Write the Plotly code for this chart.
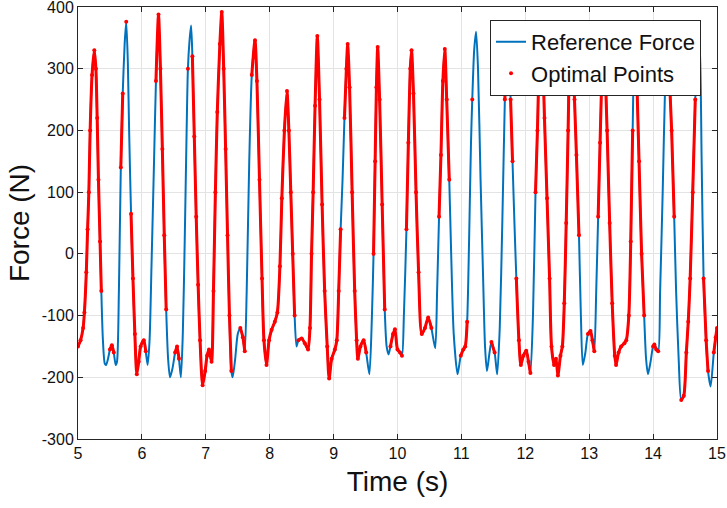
import plotly.graph_objects as go

# Knots of the reference force curve
time_s = [
    5.00, 5.04, 5.08, 5.10, 5.13, 5.15, 5.17, 5.19, 5.22, 5.255, 5.28, 5.30, 5.32, 5.345, 5.365,
    5.39, 5.42, 5.44, 5.47, 5.50, 5.53, 5.56, 5.59, 5.61, 5.64, 5.67, 5.70, 5.73, 5.755, 5.78,
    5.80, 5.83, 5.86, 5.89, 5.92, 5.95, 5.98, 6.03, 6.06, 6.09, 6.12, 6.15, 6.19, 6.22, 6.26,
    6.29, 6.32, 6.35, 6.38, 6.41, 6.44, 6.48, 6.52, 6.55, 6.58, 6.61, 6.64, 6.67, 6.70, 6.72,
    6.745, 6.77, 6.79, 6.82, 6.85, 6.88, 6.91, 6.95, 6.99, 7.02, 7.05, 7.09, 7.12, 7.15, 7.18,
    7.22, 7.25, 7.28, 7.31, 7.34, 7.37, 7.40, 7.42, 7.46, 7.50, 7.54, 7.58, 7.61, 7.64, 7.68,
    7.72, 7.77, 7.80, 7.84, 7.88, 7.91, 7.95, 7.99, 8.03, 8.08, 8.12, 8.16, 8.19, 8.23, 8.27,
    8.30, 8.33, 8.36, 8.39, 8.42, 8.45, 8.50, 8.55, 8.60, 8.63, 8.655, 8.68, 8.71, 8.745, 8.78,
    8.82, 8.86, 8.90, 8.93, 8.97, 9.02, 9.05, 9.08, 9.11, 9.14, 9.17, 9.20, 9.22, 9.25, 9.29,
    9.33, 9.36, 9.38, 9.42, 9.47, 9.51, 9.56, 9.60, 9.625, 9.65, 9.67, 9.69, 9.72, 9.76, 9.80,
    9.83, 9.86, 9.89, 9.93, 9.96, 10.00, 10.04, 10.07, 10.10, 10.14, 10.17, 10.20, 10.22, 10.25, 10.29,
    10.33, 10.38, 10.43, 10.48, 10.53, 10.59, 10.62, 10.65, 10.68, 10.71, 10.74, 10.77, 10.81, 10.84, 10.88,
    10.94, 10.99, 11.03, 11.06, 11.09, 11.12, 11.15, 11.17, 11.20, 11.23, 11.26, 11.30, 11.34, 11.37, 11.40,
    11.44, 11.47, 11.52, 11.56, 11.60, 11.64, 11.68, 11.70, 11.72, 11.75, 11.77, 11.80, 11.83, 11.86, 11.90,
    11.93, 11.97, 12.015, 12.05, 12.08, 12.12, 12.16, 12.19, 12.22, 12.24, 12.27, 12.30, 12.34, 12.38, 12.41,
    12.45, 12.48, 12.51, 12.55, 12.58, 12.61, 12.64, 12.67, 12.69, 12.71, 12.74, 12.77, 12.80, 12.84, 12.87,
    12.90, 12.94, 12.98, 13.02, 13.05, 13.08, 13.11, 13.14, 13.17, 13.19, 13.21, 13.24, 13.28, 13.32, 13.36,
    13.40, 13.42, 13.46, 13.50, 13.55, 13.58, 13.62, 13.65, 13.68, 13.71, 13.74, 13.78, 13.82, 13.86, 13.89,
    13.92, 13.96, 14.00, 14.02, 14.05, 14.08, 14.11, 14.15, 14.19, 14.22, 14.25, 14.29, 14.33, 14.36, 14.40,
    14.44, 14.48, 14.52, 14.55, 14.58, 14.62, 14.66, 14.70, 14.73, 14.76, 14.79, 14.83, 14.86, 14.90, 14.95,
    14.98, 15.00,
]

force_n = [
    -150, -140, -120, -95, -30, 40, 100, 200, 290, 330, 300, 220, 120, 20, -60,
    -140, -178, -180, -170, -155, -148, -160, -180, -175, -60, 140, 260, 340, 376, 310,
    200, 65, -40, -130, -195, -175, -150, -140, -158, -180, -140, -20, 150, 280, 388,
    300, 170, 30, -90, -170, -200, -185, -160, -150, -170, -200, -130, 20, 200, 300,
    345, 370, 320, 190, 60, -50, -140, -213, -190, -165, -155, -175, -60, 100, 230,
    340, 392, 300, 170, 30, -100, -190, -200, -170, -130, -120, -135, -158, -60, 150,
    290, 346, 280, 120, -40, -140, -180, -140, -123, -110, -95, -20, 90, 200, 264,
    200, 100, 0, -100, -150, -140, -137, -145, -155, -120, 0, 100, 240, 353, 250,
    80, -60, -150, -202, -170, -155, -140, -60, 40, 120, 220, 300, 340, 270, 100,
    -60, -140, -170, -150, -140, -160, -195, -100, 0, 150, 270, 335, 250, 80, -90,
    -150, -163, -150, -130, -122, -155, -160, -165, -100, 40, 180, 300, 330, 260, 100,
    -30, -130, -120, -103, -120, -153, -60, 60, 160, 280, 332, 250, 120, 0, -130,
    -195, -165, -155, -150, -110, 20, 180, 250, 330, 360, 300, 120, -40, -150, -190,
    -160, -143, -160, -195, -120, 50, 250, 320, 360, 330, 250, 150, 50, -40, -140,
    -180, -165, -157, -175, -193, -100, 100, 200, 330, 360, 330, 220, 90, -40, -150,
    -180, -170, -197, -165, -150, -80, 50, 200, 320, 360, 330, 250, 160, 30, -100,
    -180, -160, -130, -125, -140, -158, -60, 60, 180, 260, 350, 330, 200, 50, -80,
    -165, -180, -160, -150, -145, -140, -100, 20, 200, 350, 300, 150, 0, -100, -170,
    -195, -175, -150, -147, -155, -158, -60, 100, 280, 350, 300, 200, 60, -60, -170,
    -237, -230, -160, -110, -40, 100, 250, 350, 330, 150, -40, -140, -190, -215, -160,
    -135, -120,
]

# 1 where the knot belongs to an "optimal points" stretch
optimal = [
    1, 1, 1, 1, 1, 1, 1, 1, 1, 1, 1, 1, 1, 1, 1,
    0, 0, 0, 0, 1, 1, 1, 0, 0, 0, 1, 1, 0, 1, 0,
    0, 1, 1, 1, 1, 1, 1, 1, 1, 0, 0, 0, 0, 1, 1,
    1, 1, 1, 1, 0, 0, 0, 1, 1, 1, 0, 0, 0, 0, 1,
    0, 0, 1, 1, 1, 1, 1, 1, 1, 1, 1, 1, 1, 1, 1,
    1, 1, 1, 1, 1, 1, 1, 0, 0, 0, 1, 1, 1, 0, 0,
    1, 1, 1, 1, 1, 1, 1, 1, 1, 1, 1, 1, 1, 1, 1,
    1, 1, 1, 1, 0, 1, 1, 1, 1, 1, 1, 1, 1, 1, 1,
    1, 1, 1, 1, 1, 1, 1, 1, 1, 0, 1, 1, 1, 1, 1,
    1, 1, 1, 1, 1, 1, 0, 0, 1, 1, 1, 1, 1, 1, 1,
    0, 0, 1, 1, 1, 1, 1, 1, 0, 1, 1, 1, 1, 1, 1,
    1, 1, 1, 1, 1, 0, 0, 1, 1, 1, 1, 1, 1, 0, 0,
    0, 1, 1, 1, 1, 0, 0, 1, 0, 0, 0, 0, 0, 0, 0,
    0, 1, 1, 0, 0, 0, 1, 1, 0, 0, 1, 1, 0, 1, 1,
    1, 1, 1, 1, 1, 0, 1, 1, 1, 0, 1, 1, 1, 1, 1,
    1, 1, 1, 1, 1, 1, 1, 1, 1, 0, 1, 1, 1, 1, 0,
    0, 0, 1, 1, 1, 1, 0, 1, 1, 1, 0, 1, 1, 1, 1,
    1, 1, 1, 1, 1, 1, 1, 1, 1, 0, 1, 1, 1, 1, 0,
    0, 0, 1, 1, 1, 1, 0, 0, 0, 0, 1, 1, 1, 0, 0,
    1, 1, 1, 1, 1, 1, 1, 0, 0, 0, 1, 1, 1, 0, 1,
    1, 1,
]

x_ticks = [5, 6, 7, 8, 9, 10, 11, 12, 13, 14, 15]
x_tick_labels = ["5", "6", "7", "8", "9", "10", "11", "12", "13", "14", "15"]
y_ticks = [-300, -200, -100, 0, 100, 200, 300, 400]
y_tick_labels = ["-300", "-200", "-100", "0", "100", "200", "300", "400"]

opt_force = [f if o else None for f, o in zip(force_n, optimal)]

BLUE = "#0072BD"
RED = "#FF0000"
FONT = "Liberation Sans, Arial, Helvetica, sans-serif"
TXT = "#111111"

fig = go.Figure()
fig.add_trace(go.Scatter(
    x=time_s, y=force_n, mode="lines", name="Reference Force",
    line=dict(color=BLUE, width=2, shape="spline", smoothing=0.7),
))
fig.add_trace(go.Scatter(
    x=time_s, y=opt_force, mode="lines", showlegend=False, hoverinfo="skip",
    line=dict(color=RED, width=3, shape="spline", smoothing=0.7),
    connectgaps=False,
))
fig.add_trace(go.Scatter(
    x=time_s, y=opt_force, mode="markers", name="Optimal Points",
    marker=dict(color=RED, size=4),
))

axis_common = dict(
    showline=True, mirror="ticks", linecolor="#262626", linewidth=1,
    ticks="inside", ticklen=5, tickcolor="#262626",
    showgrid=True, gridcolor="#E3E3E3", gridwidth=1, zeroline=False,
    tickfont=dict(family=FONT, size=16, color=TXT),
    automargin=False,
)

fig.update_layout(
    width=727, height=508,
    margin=dict(l=78, r=10, t=7, b=69),
    paper_bgcolor="white", plot_bgcolor="white",
    font=dict(family=FONT, color=TXT),
    xaxis=dict(
        range=[5, 15], tickvals=x_ticks, ticktext=x_tick_labels,
        ticklabeloverflow="allow",
        title=dict(text="Time (s)", font=dict(family=FONT, size=28, color=TXT), standoff=10),
        **axis_common,
    ),
    yaxis=dict(
        range=[-300, 400], tickvals=y_ticks, ticktext=y_tick_labels,
        ticklabeloverflow="allow",
        title=dict(text="Force (N)", font=dict(family=FONT, size=28, color=TXT), standoff=3),
        **axis_common,
    ),
    legend=dict(
        x=0.975, y=0.97, xanchor="right", yanchor="top",
        bgcolor="white", bordercolor="#262626", borderwidth=1,
        font=dict(family=FONT, size=22, color=TXT),
        tracegroupgap=0,
    ),
    showlegend=True,
)

fig.write_html(
    "out.html",
    config={"displayModeBar": False},
    post_script="document.body.style.margin='0';document.body.style.padding='0';",
)
